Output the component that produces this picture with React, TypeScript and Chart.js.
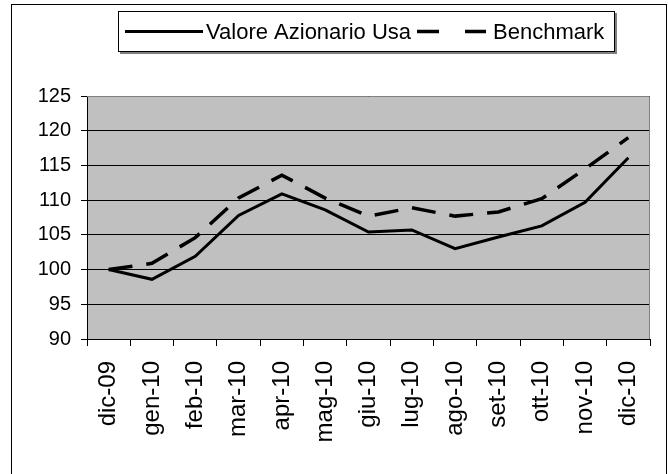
import React, { useEffect, useRef } from "react";
import { Chart, registerables } from "chart.js";

Chart.register(...registerables);

const categories = ["dic-09", "gen-10", "feb-10", "mar-10", "apr-10", "mag-10", "giu-10", "lug-10", "ago-10", "set-10", "ott-10", "nov-10", "dic-10"];
const valoreAzionarioUsa = [100, 98.6, 101.9, 107.8, 110.9, 108.6, 105.4, 105.7, 103.0, 104.7, 106.3, 109.7, 116.1];
const benchmark = [100, 100.9, 104.6, 110.3, 113.6, 110.3, 107.7, 108.9, 107.7, 108.3, 110.2, 114.5, 119.0];
const seriesNames = ["Valore Azionario Usa", "Benchmark"];
const yMin = 90;
const yMax = 125;
const yStep = 5;

const FONT = "'Liberation Sans', Arial, sans-serif";

const plotBgPlugin = {
  id: "plotBg",
  beforeDraw(chart: any) {
    const { ctx, chartArea: a } = chart;
    ctx.save();
    ctx.fillStyle = "#c0c0c0";
    ctx.fillRect(a.left, a.top, a.right - a.left, a.bottom - a.top);
    ctx.restore();
  },
  beforeDatasetsDraw(chart: any) {
    const { ctx, chartArea: a } = chart;
    ctx.save();
    ctx.strokeStyle = "#808080";
    ctx.lineWidth = 1;
    ctx.beginPath();
    ctx.moveTo(a.left, a.top + 0.5);
    ctx.lineTo(a.right - 0.5, a.top + 0.5);
    ctx.lineTo(a.right - 0.5, a.bottom);
    ctx.stroke();
    ctx.restore();
  },
};

const legendPlugin = {
  id: "customLegend",
  afterDraw(chart: any) {
    const { ctx } = chart;
    const box = { left: 106, top: 6, right: 603, bottom: 47 };
    const cy = (box.top + box.bottom) / 2;
    ctx.save();
    ctx.fillStyle = "#808080";
    ctx.fillRect(box.left + 2, box.bottom, box.right - box.left, 2);
    ctx.fillRect(box.right, box.top + 2, 2, box.bottom - box.top);
    ctx.fillStyle = "#fff";
    ctx.fillRect(box.left, box.top, box.right - box.left, box.bottom - box.top);
    ctx.strokeStyle = "#000";
    ctx.lineWidth = 1;
    ctx.strokeRect(box.left + 0.5, box.top + 0.5, box.right - box.left - 1, box.bottom - box.top - 1);

    ctx.font = `22px ${FONT}`;
    ctx.textBaseline = "middle";
    ctx.fillStyle = "#000";

    const ds = chart.data.datasets;
    let x = box.left + 7;
    ctx.strokeStyle = "#000";
    ctx.lineWidth = ds[0].borderWidth;
    ctx.setLineDash([]);
    ctx.beginPath();
    ctx.moveTo(x, cy);
    ctx.lineTo(x + 78, cy);
    ctx.stroke();
    x += 81;
    ctx.fillText(ds[0].label, x, cy + 1);
    x += ctx.measureText(ds[0].label).width + 6;
    ctx.lineWidth = ds[1].borderWidth;
    ctx.setLineDash([22, 26]);
    ctx.beginPath();
    ctx.moveTo(x, cy);
    ctx.lineTo(x + 69, cy);
    ctx.stroke();
    ctx.setLineDash([]);
    x += 76;
    ctx.fillText(ds[1].label, x, cy + 1);
    ctx.restore();
  },
};

export default function App() {
  const ref = useRef<HTMLCanvasElement>(null);

  useEffect(() => {
    if (!ref.current) return;
    const chart = new Chart(ref.current, {
      type: "line",
      data: {
        labels: categories,
        datasets: [
          {
            label: seriesNames[0],
            data: valoreAzionarioUsa,
            borderColor: "#000",
            borderWidth: 3,
            pointRadius: 0,
            tension: 0,
            fill: false,
          },
          {
            label: seriesNames[1],
            data: benchmark,
            borderColor: "#000",
            borderWidth: 3.5,
            borderDash: [24, 14],
            pointRadius: 0,
            tension: 0,
            fill: false,
          },
        ],
      },
      options: {
        responsive: false,
        animation: false,
        devicePixelRatio: 1,
        layout: { padding: { top: 91, right: 16, left: 0, bottom: 0 } },
        plugins: {
          legend: { display: false },
          tooltip: { enabled: false },
        },
        scales: {
          x: {
            type: "category",
            offset: true,
            grid: {
              display: true,
              drawOnChartArea: false,
              drawTicks: true,
              tickLength: 7,
              offset: true,
              color: "#000",
            },
            border: { display: true, color: "#000", width: 1 },
            ticks: {
              autoSkip: false,
              maxRotation: 90,
              minRotation: 90,
              padding: 15,
              color: "#000",
              font: { family: FONT, size: 24 },
            },
            afterFit: (s: any) => {
              s.height = 136;
              s.paddingLeft = 0;
              s.paddingRight = 0;
            },
          },
          y: {
            min: yMin,
            max: yMax,
            grid: {
              display: true,
              drawOnChartArea: true,
              drawTicks: true,
              tickLength: 6,
              color: "#000",
            },
            border: { display: true, color: "#000", width: 1 },
            ticks: {
              stepSize: yStep,
              padding: 10,
              color: "#000",
              font: { family: FONT, size: 20 },
            },
            afterFit: (s: any) => {
              s.width = 75;
              s.paddingTop = 0;
              s.paddingBottom = 0;
            },
          },
        },
      },
      plugins: [plotBgPlugin, legendPlugin],
    });
    return () => chart.destroy();
  }, []);

  return (
    <div
      style={{
        position: "absolute",
        left: 11,
        top: 4,
        width: 654,
        height: 480,
        border: "1px solid #000",
        background: "#fff",
        boxSizing: "content-box",
      }}
    >
      <canvas ref={ref} width={654} height={470} style={{ display: "block", width: 654, height: 470 }} />
    </div>
  );
}
